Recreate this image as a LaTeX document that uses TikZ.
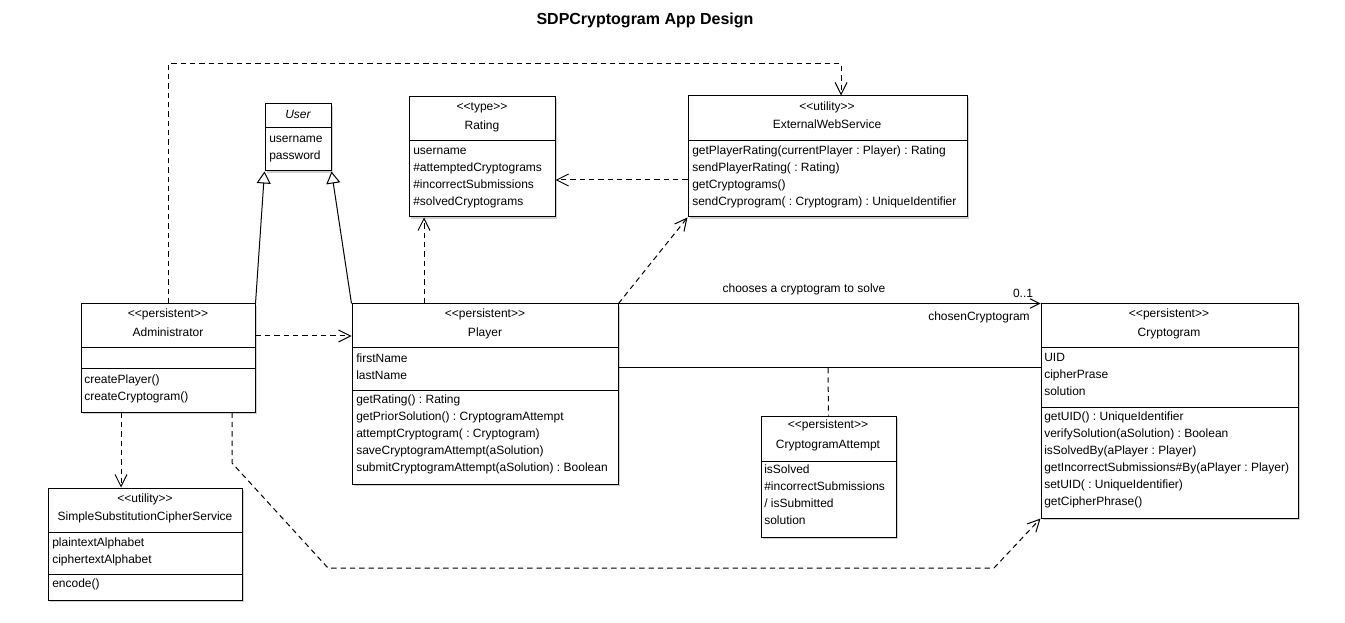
\documentclass[tikz,border=0pt]{standalone}
\usepackage{fontspec}
\setmainfont{Liberation Sans}
\usetikzlibrary{arrows.meta,fit,shadows}
\newcommand{\sterx}[1]{<\kern0pt<#1>\kern0pt>}
\frenchspacing
\begin{document}
\begin{tikzpicture}[x=0.75pt,y=-0.75pt,
 cls/.style={draw, line width=0.75pt, inner sep=0pt, fill=white,
   drop shadow={shadow xshift=1.2pt, shadow yshift=-1.2pt, fill=black!18, opacity=1}},
 txt/.style={inner sep=0pt, font=\fontsize{9}{11}\selectfont\frenchspacing, text height=6.6pt, text depth=1.9pt},
 lft/.style={txt, anchor=west},
 sepline/.style={line width=0.75pt},
 dashln/.style={line width=0.75pt, dash pattern=on 4pt off 3pt},
 dep/.style={dashln, -{Straight Barb[length=9pt,width=9pt]}},
 gen/.style={line width=0.75pt, -{Triangle[open,length=9pt,width=10.5pt,fill=white]}},
 assoc/.style={line width=0.75pt},
]
\useasboundingbox (0,0) rectangle (1345,623);

% title
\node[inner sep=0pt, font=\fontsize{12}{14}\selectfont\bfseries] (title) at (645,20) {SDPCryptogram App Design};

% User
\node[cls, fit={(265,104) (331,171)}] (user) {};
\draw[sepline] (265,128) -- (331,128);
\node[txt] (user-n) at (298,115) {\itshape User};
\foreach \t [count=\i from 0] in {username,password}
  \node[lft] (user-a\i) at (269,{139+17*\i}) {\t};

% Rating
\node[cls, fit={(409,97) (555,217)}] (rating) {};
\draw[sepline] (409,141) -- (555,141);
\node[txt] (rating-s) at (482,107) {\sterx{type}};
\node[txt] (rating-n) at (482,126) {Rating};
\foreach \t [count=\i from 0] in {username,\#attemptedCryptograms,\#incorrectSubmissions,\#solvedCryptograms}
  \node[lft] (rating-a\i) at (413,{151+17*\i}) {\t};

% ExternalWebService
\node[cls, fit={(688,96) (967,217)}] (ews) {};
\draw[sepline] (688,141) -- (967,141);
\node[txt] (ews-s) at (827,107) {\sterx{utility}};
\node[txt] (ews-n) at (827,125) {ExternalWebService};
\foreach \t [count=\i from 0] in {getPlayerRating(currentPlayer : Player) : Rating,sendPlayerRating( : Rating),getCryptograms(),sendCryprogram( : Cryptogram) : UniqueIdentifier}
  \node[lft] (ews-m\i) at (692,{151+17*\i}) {\t};

% Administrator
\node[cls, fit={(81,304) (255,412)}] (admin) {};
\draw[sepline] (81,348) -- (255,348);
\draw[sepline] (81,369) -- (255,369);
\node[txt] (admin-s) at (168,314) {\sterx{persistent}};
\node[txt] (admin-n) at (168,333) {Administrator};
\foreach \t [count=\i from 0] in {createPlayer(),createCryptogram()}
  \node[lft] (admin-m\i) at (84,{380+17*\i}) {\t};

% Player
\node[cls, fit={(352,304) (618,484)}] (player) {};
\draw[sepline] (352,348) -- (618,348);
\draw[sepline] (352,390) -- (618,390);
\node[txt] (player-s) at (485,314) {\sterx{persistent}};
\node[txt] (player-n) at (485,333) {Player};
\foreach \t [count=\i from 0] in {firstName,lastName}
  \node[lft] (player-a\i) at (356,{359+17*\i}) {\t};
\foreach \t [count=\i from 0] in {getRating() : Rating,getPriorSolution() : CryptogramAttempt,attemptCryptogram( : Cryptogram),saveCryptogramAttempt(aSolution),submitCryptogramAttempt(aSolution) : Boolean}
  \node[lft] (player-m\i) at (356,{400+17*\i}) {\t};

% Cryptogram
\node[cls, fit={(1041,304) (1298,518)}] (crypto) {};
\draw[sepline] (1041,348) -- (1298,348);
\draw[sepline] (1041,407) -- (1298,407);
\node[txt] (crypto-s) at (1169,314) {\sterx{persistent}};
\node[txt] (crypto-n) at (1169,333) {Cryptogram};
\foreach \t [count=\i from 0] in {UID,cipherPrase,solution}
  \node[lft] (crypto-a\i) at (1044,{358+17*\i}) {\t};
\foreach \t [count=\i from 0] in {getUID() : UniqueIdentifier,verifySolution(aSolution) : Boolean,isSolvedBy(aPlayer : Player),getIncorrectSubmissions\#By(aPlayer : Player),setUID( : UniqueIdentifier),getCipherPhrase()}
  \node[lft] (crypto-m\i) at (1044,{417+17*\i}) {\t};

% CryptogramAttempt
\node[cls, fit={(761,416) (896,537)}] (attempt) {};
\draw[sepline] (761,461) -- (896,461);
\node[txt] (attempt-s) at (828,425) {\sterx{persistent}};
\node[txt] (attempt-n) at (828,445) {CryptogramAttempt};
\foreach \t [count=\i from 0] in {isSolved,\#incorrectSubmissions,/ isSubmitted,solution}
  \node[lft] (attempt-a\i) at (764,{470+17*\i}) {\t};

% SimpleSubstitutionCipherService
\node[cls, fit={(48,488) (242,600)}] (simple) {};
\draw[sepline] (48,532) -- (242,532);
\draw[sepline] (48,574) -- (242,574);
\node[txt] (simple-s) at (145,499) {\sterx{utility}};
\node[txt] (simple-n) at (145,517) {SimpleSubstitutionCipherService};
\foreach \t [count=\i from 0] in {plaintextAlphabet,ciphertextAlphabet}
  \node[lft] (simple-a\i) at (52,{543+17*\i}) {\t};
\node[lft] (simple-m0) at (52,584) {encode()};

% helper coordinates
\coordinate (topc) at (841,64);
\coordinate (pr) at (424,0);
\coordinate (er) at (0,180);
\coordinate (ap) at (0,336);
\coordinate (aa) at (0,368);
\coordinate (mid) at (828,368);
\coordinate (ss) at (121,0);
\coordinate (b1) at (232,463);
\coordinate (b2) at (328,568);
\coordinate (b3) at (994,568);

% connectors
\draw[dep] (admin.north) |- (topc) -- (ews.north -| topc);
\draw[gen] (admin.north east) -- (user.south west);
\draw[gen] (player.north west) -- (user.south east);
\draw[dep] (player.north -| pr) -- (rating.south -| pr);
\draw[dep] (ews.west |- er) -- (rating.east |- er);
\draw[dep] (player.north east) -- (ews.south west);
\draw[dep] (admin.east |- ap) -- (player.west |- ap);
\draw[assoc, -{Straight Barb[length=7pt,width=7pt]}] (player.north east) -- (crypto.north west);
\node[txt] (assoc-l) at (804,289) {chooses a cryptogram to solve};
\node[txt] (assoc-m) at (1023,294) {0..1};
\node[txt] (assoc-r) at (979,317) {chosenCryptogram};
\draw[assoc] (player.east |- aa) -- (crypto.west |- aa);
\draw[dashln] (mid) -- (attempt.north);
\draw[dep] (admin.south -| ss) -- (simple.north -| ss);
\draw[dep] (admin.south -| b1) -- (b1) -- (b2) -- (b3) -- (crypto.south west);
\end{tikzpicture}
\end{document}
